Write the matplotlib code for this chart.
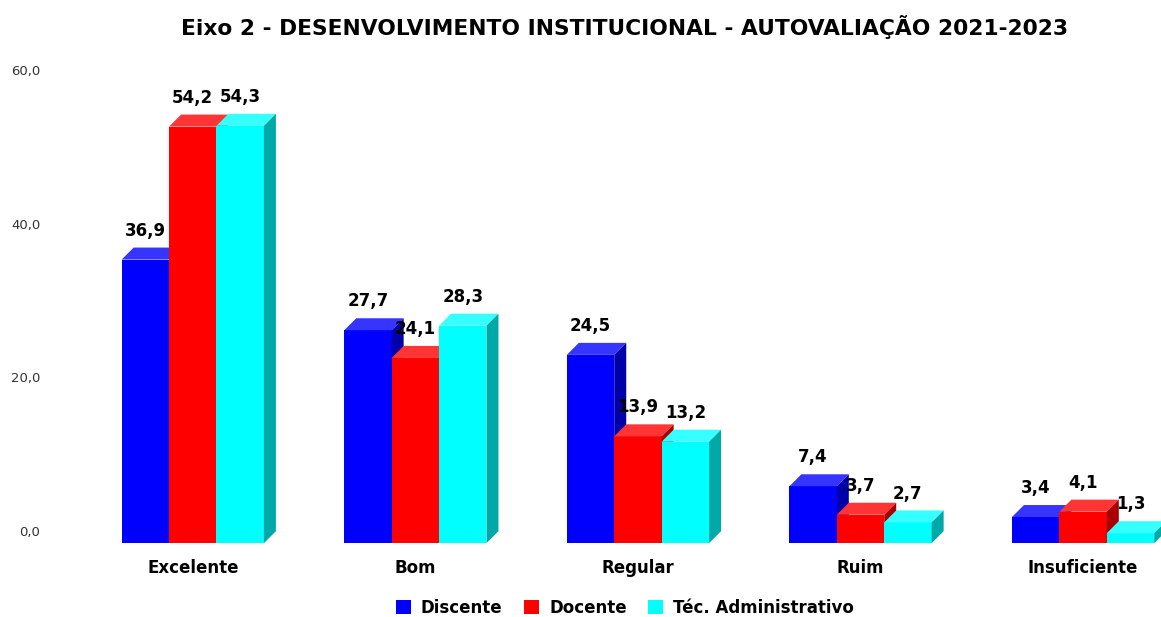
import matplotlib.pyplot as plt
from matplotlib.patches import Polygon, Patch

categories = ['Excelente', 'Bom', 'Regular', 'Ruim', 'Insuficiente']
series_names = ['Discente', 'Docente', 'Téc. Administrativo']
discente = [36.9, 27.7, 24.5, 7.4, 3.4]
docente = [54.2, 24.1, 13.9, 3.7, 4.1]
tec_adm = [54.3, 28.3, 13.2, 2.7, 1.3]
yticks = [0, 20, 40, 60]

# front / top / side colours per series
colors = [('#0000FF', '#3535FF', '#0000A8'),
          ('#FF0000', '#FF3535', '#A80000'),
          ('#00FFFF', '#35FFFF', '#00A8A8')]

W, H = 1161, 617
fig = plt.figure(figsize=(W / 100, H / 100), dpi=100)
ax = fig.add_axes([57 / W, (H - 545) / H, (W - 57) / W, (545 - 70) / H])

bar_w = 0.213
dx = 12 / 222.6      # depth, x data units
dy = 12 / 7.68       # depth, y data units

series = [discente, docente, tec_adm]
for i in range(len(categories)):
    for j, vals in enumerate(series):
        v = vals[i]
        x0 = i + (j - 1) * bar_w - bar_w / 2
        x1 = x0 + bar_w
        y0 = -dy
        y1 = v - dy
        front, top, side = colors[j]
        ax.add_patch(Polygon([(x0, y0), (x1, y0), (x1, y1), (x0, y1)],
                             closed=True, fc=front, ec='none', zorder=2))
        ax.add_patch(Polygon([(x0, y1), (x1, y1), (x1 + dx, y1 + dy), (x0 + dx, y1 + dy)],
                             closed=True, fc=top, ec='none', zorder=2))
        ax.add_patch(Polygon([(x1, y0), (x1 + dx, y0 + dy), (x1 + dx, y1 + dy), (x1, y1)],
                             closed=True, fc=side, ec='none', zorder=2))
        ax.text((x0 + x1) / 2, v + 2.2, f'{v:.1f}'.replace('.', ','),
                ha='center', va='center', fontsize=12, fontweight='bold',
                color='black', zorder=5)

ax.set_xlim(-0.61, 4.35)
ax.set_ylim(-1.8, 60)
ax.set_yticks(yticks)
ax.set_yticklabels([f'{t:.1f}'.replace('.', ',') for t in yticks],
                   fontsize=9.5, color='#333333')
ax.tick_params(axis='y', length=0, pad=12)
ax.set_xticks(range(len(categories)))
ax.set_xticklabels(categories, fontsize=12, fontweight='bold')
ax.tick_params(axis='x', length=0, pad=10)
for s in ax.spines.values():
    s.set_visible(False)

fig.suptitle('Eixo 2 - DESENVOLVIMENTO INSTITUCIONAL - AUTOVALIAÇÃO 2021-2023',
             x=625 / W, y=1 - 27 / H, va='center', fontsize=15.7, fontweight='bold')

handles = [Patch(fc=c[0], ec='none') for c in colors]
fig.legend(handles, series_names, loc='center', bbox_to_anchor=(625 / W, 1 - 608 / H),
           ncol=3, frameon=False, prop={'weight': 'bold', 'size': 12},
           handlelength=0.9, handleheight=0.9, handletextpad=0.6, columnspacing=1.3)

fig.savefig('out.png', dpi=100)
